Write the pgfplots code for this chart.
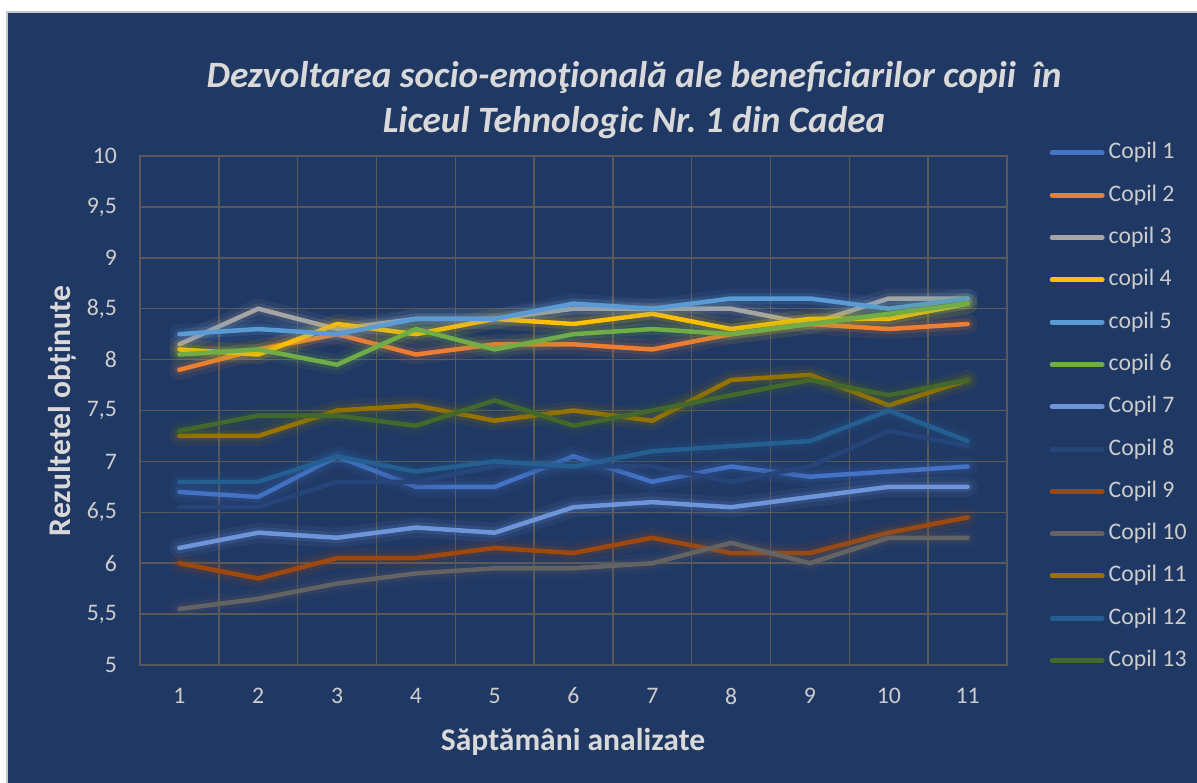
\documentclass[border=0pt]{standalone}
\usepackage{fontspec}
\setmainfont{Carlito}
\usepackage{pgfplots}
\pgfplotsset{compat=1.18}
\usepackage{pgfplotstable}
\frenchspacing

\definecolor{bg}{HTML}{203864}
\definecolor{framec}{HTML}{C8C8C8}
\definecolor{gridc}{HTML}{595959}
\definecolor{txt}{HTML}{D9D9D9}
\definecolor{tickc}{HTML}{CDCDCD}
\definecolor{k1}{HTML}{4472C4}
\definecolor{k2}{HTML}{ED7D31}
\definecolor{k3}{HTML}{A5A5A5}
\definecolor{k4}{HTML}{FFC000}
\definecolor{k5}{HTML}{5B9BD5}
\definecolor{k6}{HTML}{70AD47}
\definecolor{k7}{HTML}{6E95DA}
\definecolor{k8}{HTML}{264478}
\definecolor{k9}{HTML}{9E480E}
\definecolor{k10}{HTML}{636363}
\definecolor{k11}{HTML}{997300}
\definecolor{k12}{HTML}{255E91}
\definecolor{k13}{HTML}{43682B}

% scoruri pe saptamani, o coloana pe copil
\pgfplotstableread{
x  c1   c2   c3   c4   c5   c6   c7   c8   c9   c10  c11  c12  c13
1  6.70 7.90 8.15 8.10 8.25 8.05 6.15 6.55 6.00 5.55 7.25 6.80 7.30
2  6.65 8.10 8.50 8.05 8.30 8.10 6.30 6.55 5.85 5.65 7.25 6.80 7.45
3  7.05 8.25 8.30 8.35 8.25 7.95 6.25 6.80 6.05 5.80 7.50 7.05 7.45
4  6.75 8.05 8.40 8.25 8.40 8.30 6.35 6.80 6.05 5.90 7.55 6.90 7.35
5  6.75 8.15 8.40 8.40 8.40 8.10 6.30 6.95 6.15 5.95 7.40 7.00 7.60
6  7.05 8.15 8.50 8.35 8.55 8.25 6.55 6.95 6.10 5.95 7.50 6.95 7.35
7  6.80 8.10 8.50 8.45 8.50 8.30 6.60 6.95 6.25 6.00 7.40 7.10 7.50
8  6.95 8.25 8.50 8.30 8.60 8.25 6.55 6.80 6.10 6.20 7.80 7.15 7.65
9  6.85 8.35 8.35 8.40 8.60 8.35 6.65 6.95 6.10 6.00 7.85 7.20 7.80
10 6.90 8.30 8.60 8.40 8.50 8.45 6.75 7.30 6.30 6.25 7.55 7.50 7.65
11 6.95 8.35 8.60 8.55 8.60 8.55 6.75 7.15 6.45 6.25 7.80 7.20 7.80
}\data

% glow + linie + intrare in legenda
\newcommand{\serie}[3]{%
  \addplot[forget plot, #2, line width=20bp, opacity=0.09, line join=round, line cap=round] table[x=x,y=#1]{\data};
  \addplot[forget plot, #2, line width=11bp, opacity=0.15, line join=round, line cap=round] table[x=x,y=#1]{\data};
  \addplot[#2, line width=4.5bp, line join=round, line cap=round] table[x=x,y=#1]{\data};
  \addlegendentry{#3}}

\begin{document}
\begin{tikzpicture}
\fill[white] (0,0) rectangle (1197bp,-783bp);
\useasboundingbox (0,0) rectangle (1197bp,-783bp);
\fill[bg] (7bp,-12bp) rectangle (1197bp,-783bp);
\draw[framec, line width=1.2bp] (7bp,-783bp) -- (7bp,-12bp) -- (1197bp,-12bp);
\begin{axis}[
  at={(140bp,-665bp)}, anchor=south west,
  scale only axis, width=867bp, height=509bp,
  xmin=0.5, xmax=11.5, ymin=5, ymax=10,
  xtick={1,...,11}, minor xtick={0.5,1.5,...,11.5},
  ytick={5,5.5,...,10},
  xmajorgrids=false, xminorgrids=true, ymajorgrids=true,
  grid style={gridc, line width=1.5bp},
  minor grid style={gridc, line width=1.5bp},
  axis line style={gridc, line width=1.5bp},
  major tick length=0pt, minor tick length=0pt,
  tick style={draw=none},
  ticklabel style={font=\fontsize{23.8}{28}\selectfont, text=tickc},
  /pgf/number format/assume math mode=true,
  /pgf/number format/use comma,
  yticklabel style={anchor=east, inner sep=0pt, xshift=-23bp},
  xticklabel style={anchor=center, inner sep=0pt, yshift=-31bp},
  legend cell align=left,
  legend style={at={(axis description cs:1.0490,1.028)}, anchor=north west,
    draw=none, fill=none, font=\fontsize{23.8}{28}\selectfont, text=tickc,
    inner sep=0pt, row sep=20.3bp, column sep=4bp,
    nodes={inner sep=0pt, text height=17bp, text depth=5bp}},
  legend image code/.code={\draw[#1, line width=5bp, line cap=round, opacity=1] (0bp,0bp) -- (50bp,0bp);},
]
\serie{c1}{k1}{Copil 1}
\serie{c2}{k2}{Copil 2}
\serie{c3}{k3}{copil 3}
\serie{c4}{k4}{copil 4}
\serie{c5}{k5}{copil 5}
\serie{c6}{k6}{copil 6}
\serie{c7}{k7}{Copil 7}
\serie{c8}{k8}{Copil 8}
\serie{c9}{k9}{Copil 9}
\serie{c10}{k10}{Copil 10}
\serie{c11}{k11}{Copil 11}
\serie{c12}{k12}{Copil 12}
\serie{c13}{k13}{Copil 13}
\end{axis}
\node[font=\fontsize{37.3}{44}\selectfont\bfseries\itshape, text=txt, anchor=base] at (634bp,-87bp) {Dezvoltarea socio-emoţională ale beneficiarilor copii\ \ în};
\node[font=\fontsize{37.3}{44}\selectfont\bfseries\itshape, text=txt, anchor=base] at (634bp,-132bp) {Liceul Tehnologic Nr. 1 din Cadea};
\node[font=\fontsize{31.7}{38}\selectfont\bfseries, text=txt, anchor=base] at (573bp,-750bp) {Săptămâni analizate};
\node[font=\fontsize{31.7}{38}\selectfont\bfseries, text=txt, anchor=base, rotate=90] at (70bp,-411bp) {Rezultetel obținute};
\end{tikzpicture}
\end{document}
